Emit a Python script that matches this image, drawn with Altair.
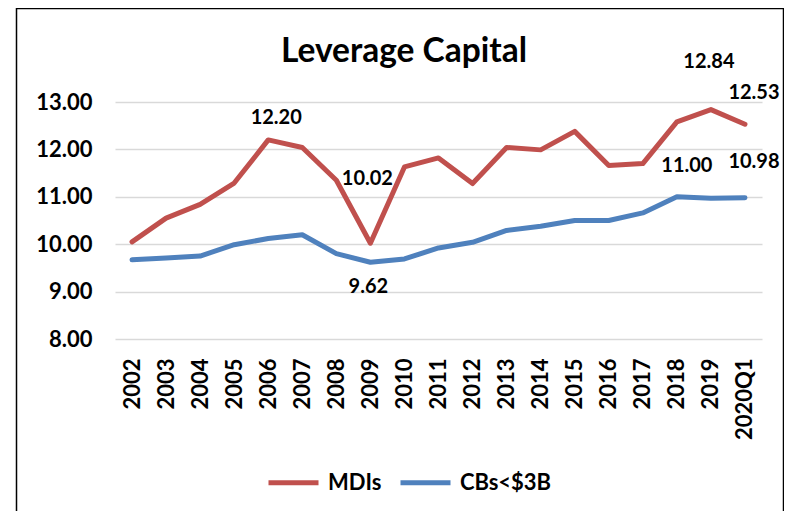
import altair as alt
import pandas as pd

categories = ["2002", "2003", "2004", "2005", "2006", "2007", "2008", "2009", "2010",
              "2011", "2012", "2013", "2014", "2015", "2016", "2017", "2018", "2019", "2020Q1"]
mdis = [10.05, 10.55, 10.84, 11.29, 12.20, 12.04, 11.35, 10.02, 11.63, 11.82,
        11.28, 12.04, 11.99, 12.38, 11.66, 11.70, 12.58, 12.84, 12.53]
cbs = [9.67, 9.71, 9.75, 9.99, 10.12, 10.20, 9.80, 9.62, 9.69, 9.92,
       10.04, 10.29, 10.38, 10.50, 10.50, 10.66, 11.00, 10.97, 10.98]
series_names = ["MDIs", "CBs<$3B"]
series_colors = ["#C0504D", "#4F81BD"]
y_ticks = [8, 9, 10, 11, 12, 13]
title_text = "Leverage Capital"

# labelled points (series, category)
labelled = [("MDIs", "2006"), ("MDIs", "2009"), ("CBs<$3B", "2009"), ("CBs<$3B", "2018"),
            ("MDIs", "2019"), ("MDIs", "2020Q1"), ("CBs<$3B", "2020Q1")]
# label offsets (style only)
label_offsets = [(8, -22), (-3, -64), (-2, 25), (10, -31), (-2, -48), (9, -31), (9, -36)]

rows = []
for s, vals in zip(series_names, [mdis, cbs]):
    for c, v in zip(categories, vals):
        rows.append({"series": s, "category": c, "value": v})
df = pd.DataFrame(rows)

FONT = "Lato"

x_enc = alt.X("category:N", sort=categories, scale=alt.Scale(type="point", padding=0.5),
              axis=alt.Axis(title=None, labelAngle=270, labelAlign="right", labelBaseline="middle",
                            labelPadding=19, domain=False, ticks=False, tickSize=0, grid=False,
                            labelFont=FONT, labelFontWeight="bold", labelFontSize=22,
                            labelColor="black"))
y_enc = alt.Y("value:Q", scale=alt.Scale(domain=[8, 13], nice=False, zero=False),
              axis=alt.Axis(title=None, values=y_ticks, format=".2f", domain=False, ticks=False,
                            tickSize=0, labelPadding=23, labelFont=FONT, labelFontWeight="bold",
                            labelFontSize=22, labelColor="black", gridColor="#D9D9D9",
                            gridWidth=1.5))

base = alt.Chart(df)

lines = base.mark_line(strokeWidth=5, strokeJoin="round", strokeCap="round").encode(
    x=x_enc,
    y=y_enc,
    color=alt.Color("series:N", sort=series_names,
                    scale=alt.Scale(domain=series_names, range=series_colors),
                    legend=alt.Legend(orient="none", legendX=151, legendY=353,
                                      direction="horizontal", title=None, symbolType="stroke",
                                      symbolSize=2500, symbolStrokeWidth=5, labelFont=FONT,
                                      labelFontWeight="bold", labelFontSize=22,
                                      labelColor="black", columnPadding=8, labelOffset=7)),
)

layers = [lines]
for (s, c), (dx, dy) in zip(labelled, label_offsets):
    layers.append(
        base.transform_filter((alt.datum.series == s) & (alt.datum.category == c))
        .mark_text(dx=dx, dy=dy, font=FONT, fontWeight="bold", fontSize=20, color="black",
                   baseline="middle")
        .encode(x=alt.X("category:N", sort=categories), y=alt.Y("value:Q"),
                text=alt.Text("value:Q", format=".2f"))
    )

title = alt.Chart(pd.DataFrame({"t": [title_text]})).mark_text(
    font=FONT, fontWeight="bold", fontSize=33.5, color="black", align="center",
    baseline="alphabetic"
).encode(x=alt.value(289), y=alt.value(-40), text="t:N")
layers.append(title)

frame = alt.Chart(pd.DataFrame({"f": [0]})).mark_rect(
    filled=False, stroke="black", strokeWidth=1.5
).encode(x=alt.value(-98.5), x2=alt.value(668.5), y=alt.value(-93.5), y2=alt.value(600))
layers.append(frame)

chart = alt.layer(*layers).properties(
    width=647,
    height=237,
    padding={"left": 107, "top": 94, "right": 22, "bottom": 172},
    autosize=alt.AutoSizeParams(type="none"),
    background="white",
).configure_view(stroke=None)

chart.save("out.html", embed_options={"renderer": "svg", "actions": False})
